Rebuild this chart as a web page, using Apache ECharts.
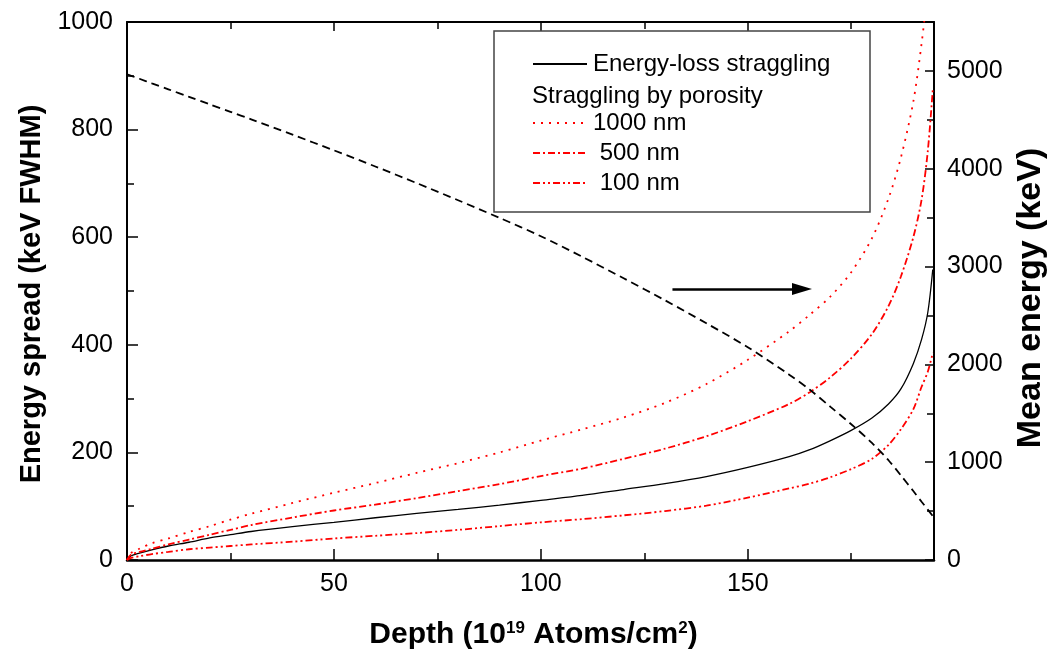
<!DOCTYPE html>
<html>
<head>
<meta charset="utf-8">
<script src="https://cdn.jsdelivr.net/npm/echarts@6/dist/echarts.min.js"></script>
<style>
html,body{margin:0;padding:0;background:#fff;}
#chart{width:1053px;height:657px;}
</style>
</head>
<body>
<div id="chart"></div>
<script>
// Depth (10^19 atoms/cm^2)
const depth = [0, 1, 3, 6, 10, 15, 20, 25, 30, 40, 50, 60, 70, 80, 90, 100, 110, 120, 130, 140, 150, 160, 165, 170, 175, 180, 184, 187, 190, 192, 193.5, 194.7];
// Energy spread (keV FWHM), left axis
const straggling = [0, 8, 13, 19, 26, 33, 41, 47, 53, 62, 70, 78.5, 86.5, 94, 102, 111, 120, 131, 142, 155, 172, 192, 205, 222, 241, 264, 290, 318, 365, 410, 460, 540];
const poro1000 = [0, 13, 21, 31, 40, 52, 63, 75, 86, 106, 125, 143, 162, 180, 200, 222, 243, 265, 292, 327, 372, 425, 456, 490, 535, 598, 672, 748, 852, 960, 1060, null];
const poro500 = [0, 10, 15, 21, 29, 38, 47, 56, 65, 79, 92, 103, 115, 128, 141, 156, 170, 188, 207, 230, 258, 290, 312, 340, 375, 420, 472, 527, 600, 670, 760, 874];
const poro100 = [0, 4, 7, 11, 15, 20, 23, 26, 29, 34, 40, 45, 50, 56, 63, 70, 76, 83, 91, 101, 116, 133, 142, 154, 169, 188, 214, 243, 280, 322, 350, 385];
// Mean energy (keV), right axis
const meanEnergy = [4965, 4950, 4920, 4873, 4812, 4735, 4658, 4582, 4505, 4348, 4188, 4023, 3853, 3678, 3498, 3310, 3100, 2880, 2655, 2420, 2175, 1895, 1740, 1565, 1388, 1197, 1020, 865, 705, 595, 515, 450];
// Arrow annotation (depth start/end, mean energy level)
const arrowDepth = [131.8, 163.1];
const arrowEnergy = 2771;

const seriesNames = ['Energy-loss straggling', '1000 nm', ' 500 nm', ' 100 nm'];
const legendHeading = 'Straggling by porosity';
const xTitle = 'Depth (10{sup|19} Atoms/cm{sup|2})';
const yLeftTitle = 'Energy spread (keV FWHM)';
const yRightTitle = 'Mean energy (keV)';

const FONT = 'Liberation Sans, Arial, sans-serif';
const pair = (vals) => depth.map((d, i) => [d, vals[i]]);

const chart = echarts.init(document.getElementById('chart'), null, {renderer: 'canvas'});

const axisLineStyle = {color: '#000', width: 2};
const tickStyle = {color: '#000', width: 1.5};
const SMOOTH = 0.3;

const option = {
  animation: false,
  backgroundColor: '#fff',
  grid: {left: 127, top: 22, width: 807, height: 538, containLabel: false, outerBoundsMode: 'none'},
  xAxis: [
    {
      type: 'value', position: 'bottom', min: 0, max: 195, interval: 50,
      axisLine: {show: true, onZero: false, lineStyle: {color: '#000', width: 2.5}},
      axisTick: {show: true, inside: true, length: 11, lineStyle: tickStyle},
      axisLabel: {show: true, margin: 12, fontSize: 25, color: '#000', fontFamily: FONT,
        formatter: v => (v % 50 === 0 ? String(v) : '')},
      splitLine: {show: false},
      name: xTitle, nameLocation: 'middle', nameGap: 60,
      nameTextStyle: {fontSize: 30, fontWeight: 'bold', color: '#000', fontFamily: FONT, padding: [0, 0, 0, 6],
        rich: {sup: {fontSize: 17, fontWeight: 'bold', fontFamily: FONT, color: '#000', verticalAlign: 'top', lineHeight: 18, padding: [0,0,11,0]}}}
    },
    {
      type: 'value', position: 'bottom', min: 0, max: 195, interval: 25,
      axisLine: {show: false, onZero: false},
      axisTick: {show: true, inside: true, length: 7, lineStyle: tickStyle},
      axisLabel: {show: false}, splitLine: {show: false}
    },
    {
      type: 'value', position: 'top', min: 0, max: 195, interval: 50,
      axisLine: {show: true, onZero: false, lineStyle: axisLineStyle},
      axisTick: {show: true, inside: true, length: 9, lineStyle: tickStyle},
      axisLabel: {show: false}, splitLine: {show: false}
    },
    {
      type: 'value', position: 'top', min: 0, max: 195, interval: 25,
      axisLine: {show: false, onZero: false},
      axisTick: {show: true, inside: true, length: 7, lineStyle: tickStyle},
      axisLabel: {show: false}, splitLine: {show: false}
    }
  ],
  yAxis: [
    {
      type: 'value', position: 'left', min: 0, max: 1000, interval: 200,
      axisLine: {show: true, onZero: false, lineStyle: axisLineStyle},
      axisTick: {show: true, inside: true, length: 11, lineStyle: tickStyle},
      minorTick: {show: true, splitNumber: 2, length: 7, lineStyle: tickStyle},
      axisLabel: {show: true, margin: 14, fontSize: 25, color: '#000', fontFamily: FONT,
        formatter: v => String(v)},
      splitLine: {show: false},
      name: yLeftTitle, nameLocation: 'middle', nameRotate: 90, nameGap: 76,
      nameTextStyle: {fontSize: 29, fontWeight: 'bold', color: '#000', fontFamily: FONT, padding: [0, 6, 0, 0]}
    },
    {
      type: 'value', position: 'right', min: 0, max: 5500, interval: 1000,
      axisLine: {show: true, onZero: false, lineStyle: axisLineStyle},
      axisTick: {show: true, inside: true, length: 9, lineStyle: tickStyle},
      axisLabel: {show: true, margin: 13, fontSize: 25, color: '#000', fontFamily: FONT,
        formatter: v => (v % 1000 === 0 ? String(v) : '')},
      splitLine: {show: false},
      name: yRightTitle, nameLocation: 'middle', nameRotate: 90, nameGap: 80,
      nameTextStyle: {fontSize: 34, fontWeight: 'bold', color: '#000', fontFamily: FONT, padding: [0, 14, 0, 0]}
    },
    {
      type: 'value', position: 'right', min: 0, max: 5500, interval: 500,
      axisLine: {show: false, onZero: false},
      axisTick: {show: true, inside: true, length: 7, lineStyle: tickStyle},
      axisLabel: {show: false}, splitLine: {show: false}
    }
  ],
  legend: [
    {
      orient: 'vertical', left: 532, top: 52, padding: 0,
      itemWidth: 54, itemHeight: 14, itemGap: 6,
      itemStyle: {opacity: 0},
      data: [seriesNames[0]],
      textStyle: {fontSize: 24, color: '#000', fontFamily: FONT, padding: [0,0,0,1]},
      z: 10
    },
    {
      orient: 'vertical', left: 532, top: 111, padding: 0,
      itemWidth: 54, itemHeight: 14, itemGap: 6,
      itemStyle: {opacity: 0},
      data: [seriesNames[1], seriesNames[2], seriesNames[3]],
      textStyle: {fontSize: 24, lineHeight: 24, color: '#000', fontFamily: FONT, padding: [0,0,0,1]},
      z: 10
    }
  ],
  graphic: [
    {type: 'rect', shape: {x: 494, y: 31, width: 376, height: 181}, z: 5,
      style: {fill: '#fff', stroke: '#444', lineWidth: 1.5}},
    {type: 'text', x: 532, y: 96, z: 10,
      style: {text: legendHeading, font: '24px ' + FONT, fill: '#000', textVerticalAlign: 'middle', verticalAlign: 'middle'}}
  ],
  series: [
    {
      name: seriesNames[0], type: 'line', xAxisIndex: 0, yAxisIndex: 0,
      data: pair(straggling), showSymbol: false, symbol: 'none', smooth: SMOOTH,
      lineStyle: {color: '#000', width: 1.3, type: 'solid'}, itemStyle: {color: '#000'}, z: 3
    },
    {
      name: seriesNames[1], type: 'line', xAxisIndex: 0, yAxisIndex: 0,
      data: pair(poro1000), showSymbol: false, symbol: 'none', smooth: SMOOTH,
      lineStyle: {color: '#ff0000', width: 1.8, type: [2, 6]}, itemStyle: {color: '#ff0000'}, z: 3
    },
    {
      name: seriesNames[2], type: 'line', xAxisIndex: 0, yAxisIndex: 0,
      data: pair(poro500), showSymbol: false, symbol: 'none', smooth: SMOOTH,
      lineStyle: {color: '#ff0000', width: 1.8, type: [7, 3, 2, 3]}, itemStyle: {color: '#ff0000'}, z: 3
    },
    {
      name: seriesNames[3], type: 'line', xAxisIndex: 0, yAxisIndex: 0,
      data: pair(poro100), showSymbol: false, symbol: 'none', smooth: SMOOTH,
      lineStyle: {color: '#ff0000', width: 1.8, type: [7, 3, 2, 3, 2, 3]}, itemStyle: {color: '#ff0000'}, z: 3
    },
    {
      name: 'Mean energy', type: 'line', xAxisIndex: 0, yAxisIndex: 1,
      data: pair(meanEnergy), showSymbol: false, symbol: 'none', smooth: SMOOTH,
      lineStyle: {color: '#000', width: 1.8, type: [8, 5]}, itemStyle: {color: '#000'}, z: 3,
      markLine: {
        silent: true, symbol: ['none', 'triangle'], symbolSize: [12, 20],
        label: {show: false},
        lineStyle: {color: '#000', width: 2.7, type: 'solid'},
        data: [[{coord: [arrowDepth[0], arrowEnergy]}, {coord: [arrowDepth[1], arrowEnergy]}]]
      }
    }
  ]
};
chart.setOption(option);
</script>
</body>
</html>
